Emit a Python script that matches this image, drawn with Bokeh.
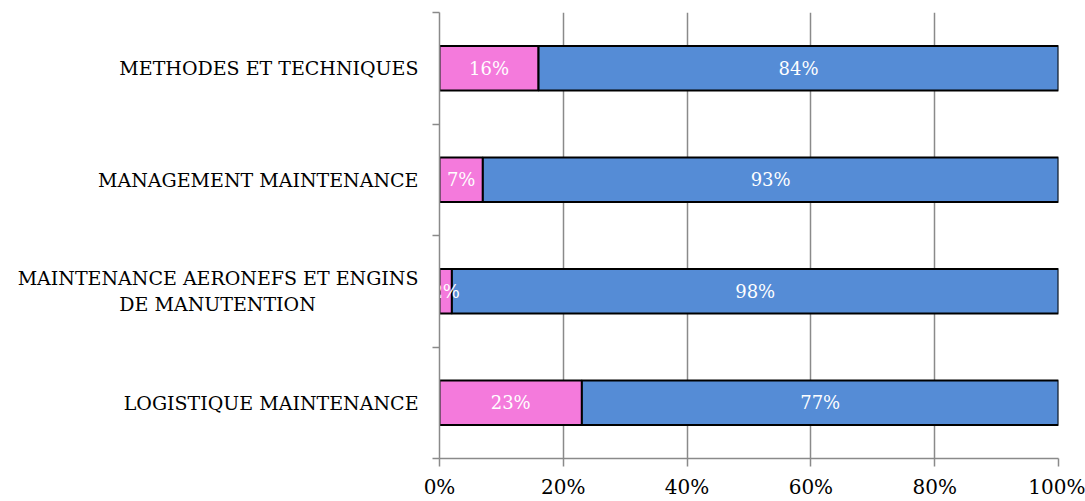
from bokeh.plotting import figure
from bokeh.models import Range1d, FixedTicker, ColumnDataSource, NumeralTickFormatter
from bokeh.core.properties import value
from bokeh.embed import file_html
from bokeh.resources import INLINE

# Categories listed bottom to top
categories = [
    "LOGISTIQUE MAINTENANCE",
    "MAINTENANCE AERONEFS ET ENGINS\nDE MANUTENTION",
    "MANAGEMENT MAINTENANCE",
    "METHODES ET TECHNIQUES",
]
share_pink = [23, 2, 7, 16]
share_blue = [77, 98, 93, 84]
x_ticks = [0, 0.2, 0.4, 0.6, 0.8, 1.0]

PINK = "#F47ADC"
BLUE = "#558CD6"
GRID = "#8A8A8A"
FONT = "DejaVu Serif"

n = len(categories)
ypos = [i + 0.5 for i in range(n)]
p_frac = [v / 100 for v in share_pink]
b_frac = [v / 100 for v in share_blue]

src = ColumnDataSource(dict(
    y=ypos,
    p_left=[0] * n,
    p_right=p_frac,
    b_left=p_frac,
    b_right=[a + b for a, b in zip(p_frac, b_frac)],
    p_mid=[a / 2 for a in p_frac],
    b_mid=[a + b / 2 for a, b in zip(p_frac, b_frac)],
    p_lbl=[f"{v}%" for v in share_pink],
    b_lbl=[f"{v}%" for v in share_blue],
))

p = figure(width=1085, height=501, x_range=Range1d(0, 1), y_range=Range1d(0, n),
           output_backend="svg", toolbar_location=None,
           min_border_left=439, min_border_right=27, min_border_top=12, min_border_bottom=43)
p.outline_line_color = None
p.background_fill_color = "white"
p.border_fill_color = "white"

# stacked bars
p.hbar(y="y", left="p_left", right="p_right", height=0.4, source=src,
       fill_color=PINK, line_color="black", line_width=2)
p.hbar(y="y", left="b_left", right="b_right", height=0.4, source=src,
       fill_color=BLUE, line_color="black", line_width=2)

# value labels
for xcol, tcol in (("p_mid", "p_lbl"), ("b_mid", "b_lbl")):
    p.text(x=xcol, y="y", text=tcol, source=src, text_color="white",
           text_font=value(FONT), text_font_size="18px",
           text_align="center", text_baseline="middle")

# x axis
p.xaxis.ticker = FixedTicker(ticks=x_ticks)
p.xaxis.formatter = NumeralTickFormatter(format="0%")
p.xaxis.axis_line_color = GRID
p.xaxis.axis_line_width = 1.5
p.xaxis.major_tick_line_color = GRID
p.xaxis.major_tick_line_width = 1.5
p.xaxis.major_tick_in = 0
p.xaxis.major_tick_out = 8
p.xaxis.minor_tick_line_color = None
p.xaxis.major_label_text_font = FONT
p.xaxis.major_label_text_font_size = "20px"
p.xaxis.major_label_text_color = "black"
p.xaxis.major_label_standoff = 8


def centred(label, pad=17):
    # right-aligned tick labels: pad the short second line so it sits centred
    lines = label.split("\n")
    if len(lines) == 1:
        return label
    return lines[0] + "\n" + lines[1] + "\u00a0" * pad


# y axis: labels at band centres, tick marks at band boundaries
p.yaxis.ticker = FixedTicker(ticks=ypos, minor_ticks=list(range(n + 1)))
p.yaxis.major_label_overrides = {y: centred(c) for y, c in zip(ypos, categories)}
p.yaxis.axis_line_color = GRID
p.yaxis.axis_line_width = 1.5
p.yaxis.major_tick_line_color = None
p.yaxis.minor_tick_line_color = GRID
p.yaxis.minor_tick_line_width = 1.5
p.yaxis.minor_tick_in = 0
p.yaxis.minor_tick_out = 7
p.yaxis.major_label_text_font = FONT
p.yaxis.major_label_text_font_size = "19px"
p.yaxis.major_label_text_color = "black"
p.yaxis.major_label_standoff = 14

# grid
p.xgrid.ticker = FixedTicker(ticks=x_ticks)
p.xgrid.grid_line_color = GRID
p.xgrid.grid_line_width = 1.5
p.ygrid.grid_line_color = None

open("out.html", "w").write(file_html(p, INLINE))
